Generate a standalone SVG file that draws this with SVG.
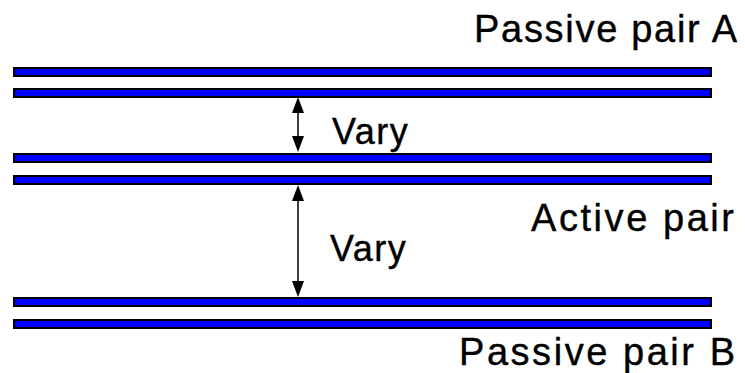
<svg xmlns="http://www.w3.org/2000/svg" width="745" height="373" viewBox="0 0 745 373">
<style>
.bar{fill:#0000ff;stroke:#000;stroke-width:2}
.lbl{font-family:"Liberation Sans",Arial,sans-serif;font-size:38px;fill:#000;stroke:#000;stroke-width:0.4}
.vary{font-size:36px;letter-spacing:1.5px}
.arr{stroke:#000;stroke-width:1.5;fill:none}
</style>
<rect width="745" height="373" fill="#fff"/>
<g id="passive-pair-a">
<rect class="bar" x="14" y="68" width="697" height="8"/>
<rect class="bar" x="14" y="89" width="697" height="8"/>
<text class="lbl" x="474" y="42" textLength="263" lengthAdjust="spacing">Passive pair A</text>
</g>
<g id="active-pair">
<rect class="bar" x="14" y="154" width="697" height="8"/>
<rect class="bar" x="14" y="176" width="697" height="8"/>
<text class="lbl" x="531" y="231" textLength="203" lengthAdjust="spacing">Active pair</text>
</g>
<g id="passive-pair-b">
<rect class="bar" x="14" y="298" width="697" height="8"/>
<rect class="bar" x="14" y="320" width="697" height="8"/>
<text class="lbl" x="459" y="365" textLength="276" lengthAdjust="spacing">Passive pair B</text>
</g>
<g id="connectors">
<line class="arr" x1="298" y1="113" x2="298" y2="137"/>
<path d="M298,97 L292,113 L304,113 z M298,152 L292,136 L304,136 z" fill="#000"/>
<line class="arr" x1="298" y1="200" x2="298" y2="282"/>
<path d="M298,185 L292,201 L304,201 z M298,297 L292,281 L304,281 z" fill="#000"/>
<text class="lbl vary" x="332" y="144">Vary</text>
<text class="lbl vary" x="330" y="261">Vary</text>
</g>
</svg>
